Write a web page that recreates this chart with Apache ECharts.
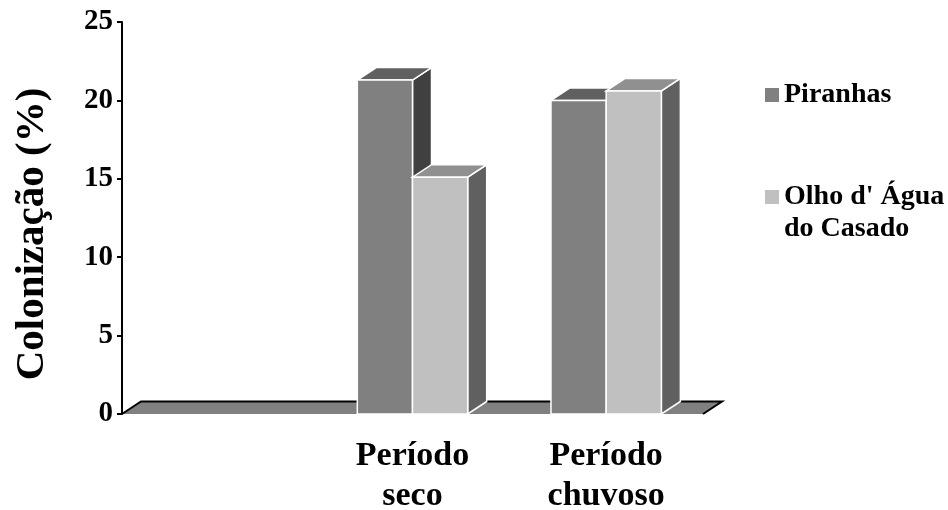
<!DOCTYPE html>
<html>
<head>
<meta charset="utf-8">
<script src="https://cdn.jsdelivr.net/npm/echarts@6/dist/echarts.min.js"></script>
<style>
  html, body { margin: 0; padding: 0; background: #ffffff; }
  #chart { width: 948px; height: 510px; }
</style>
</head>
<body>
<div id="chart"></div>
<script>
// Categories along the floor (the first slot is left empty)
const categories = ['', 'Período\nseco', 'Período\nchuvoso'];

// Colonization (%) per site
const piranhas = [null, 21.3, 20.0];
const olhoDagua = [null, 15.1, 20.6];

const seriesNames = ['Piranhas', "Olho d' Água\ndo Casado"];

// Value axis ticks
const yMin = 0;
const yMax = 25;
const yStep = 5;

const FONT = '"Liberation Serif", "Times New Roman", serif';

// Pseudo-3D depth of the floor and columns (pixels)
const DX = 19;
const DY = -12.5;
// Share of a category band left empty between clusters
const GAP = 0.43;

const faces = [
  { front: '#808080', top: '#606060', side: '#404040' },
  { front: '#c0c0c0', top: '#909090', side: '#606060' }
];

// Legend swatch for a two-line label: the square sits level with the first line
const tallSwatch = 'path://M0,0h14v14h-14z M0,46h0.01';

function toPairs(values) {
  return values.map((v, i) => [i, v]).filter(p => p[1] != null);
}

function columnRenderer(slot) {
  const f = faces[slot];
  return function (params, api) {
    const v = api.value(1);
    if (v == null || isNaN(v)) return null;
    const c = api.value(0);
    const base = api.coord([c, 0]);
    const top = api.coord([c, v]);
    const band = api.size([1, 0])[0];
    const w = band * (1 - GAP) / 2;
    const x = base[0] - w + slot * w;
    const yT = top[1];
    const yB = base[1];
    const edge = { stroke: '#ffffff', lineWidth: 1.5, lineJoin: 'miter' };
    return {
      type: 'group',
      children: [
        {
          type: 'polygon',
          shape: { points: [[x + w, yT], [x + w + DX, yT + DY], [x + w + DX, yB + DY], [x + w, yB]] },
          style: Object.assign({ fill: f.side }, edge)
        },
        {
          type: 'polygon',
          shape: { points: [[x, yT], [x + w, yT], [x + w + DX, yT + DY], [x + DX, yT + DY]] },
          style: Object.assign({ fill: f.top }, edge)
        },
        {
          type: 'rect',
          shape: { x: x, y: yT, width: w, height: yB - yT },
          style: Object.assign({ fill: f.front }, edge)
        }
      ]
    };
  };
}

function floorRenderer(params) {
  const cs = params.coordSys;
  const xl = cs.x;
  const xr = cs.x + cs.width;
  const y = cs.y + cs.height;
  return {
    type: 'group',
    children: [
      {
        type: 'polygon',
        shape: { points: [[xl, y], [xr, y], [xr + DX, y + DY], [xl + DX, y + DY]] },
        style: { fill: '#808080' }
      },
      {
        type: 'polyline',
        shape: { points: [[xl, y], [xl + DX, y + DY], [xr + DX, y + DY], [xr, y]] },
        style: { stroke: '#000000', lineWidth: 2, fill: null }
      }
    ]
  };
}

const legendText = {
  fontFamily: FONT,
  fontWeight: 'bold',
  fontSize: 28,
  lineHeight: 32,
  color: '#000000'
};

const chart = echarts.init(document.getElementById('chart'), null, { renderer: 'canvas' });

chart.setOption({
  backgroundColor: '#ffffff',
  animation: false,
  grid: {
    left: 122,
    top: 22,
    width: 581,
    height: 392,
    outerBoundsMode: 'none'
  },
  legend: [
    {
      data: [seriesNames[0]],
      left: 765,
      top: 79,
      padding: 0,
      orient: 'vertical',
      icon: 'rect',
      itemWidth: 14,
      itemHeight: 14,
      textStyle: legendText
    },
    {
      data: [seriesNames[1]],
      left: 765,
      top: 181,
      padding: 0,
      orient: 'vertical',
      icon: tallSwatch,
      itemWidth: 14,
      itemHeight: 46,
      textStyle: legendText
    }
  ],
  xAxis: {
    type: 'category',
    data: categories,
    boundaryGap: true,
    axisLine: { show: false },
    axisTick: { show: false },
    axisLabel: {
      interval: 0,
      margin: 22,
      fontFamily: FONT,
      fontWeight: 'bold',
      fontSize: 34,
      lineHeight: 40,
      color: '#000000'
    },
    splitLine: { show: false }
  },
  yAxis: {
    type: 'value',
    min: yMin,
    max: yMax,
    interval: yStep,
    name: 'Colonização (%)',
    nameLocation: 'middle',
    nameRotate: 90,
    nameGap: 69,
    nameTextStyle: {
      fontFamily: FONT,
      fontWeight: 'bold',
      fontSize: 41,
      color: '#000000',
      padding: [0, 32, 0, 0]
    },
    axisLine: { show: true, lineStyle: { color: '#000000', width: 2 } },
    axisTick: { show: true, inside: false, length: 5, lineStyle: { color: '#000000', width: 2 } },
    axisLabel: {
      margin: 9,
      fontFamily: FONT,
      fontWeight: 'bold',
      fontSize: 29,
      color: '#000000'
    },
    splitLine: { show: false }
  },
  series: [
    {
      type: 'custom',
      name: 'floor',
      silent: true,
      z: 1,
      renderItem: floorRenderer,
      encode: { x: 0, y: 1 },
      data: [[0, 0]]
    },
    {
      type: 'custom',
      name: seriesNames[0],
      z: 2,
      itemStyle: { color: faces[0].front },
      renderItem: columnRenderer(0),
      encode: { x: 0, y: 1 },
      data: toPairs(piranhas)
    },
    {
      type: 'custom',
      name: seriesNames[1],
      z: 3,
      itemStyle: { color: faces[1].front },
      renderItem: columnRenderer(1),
      encode: { x: 0, y: 1 },
      data: toPairs(olhoDagua)
    }
  ]
});
</script>
</body>
</html>
